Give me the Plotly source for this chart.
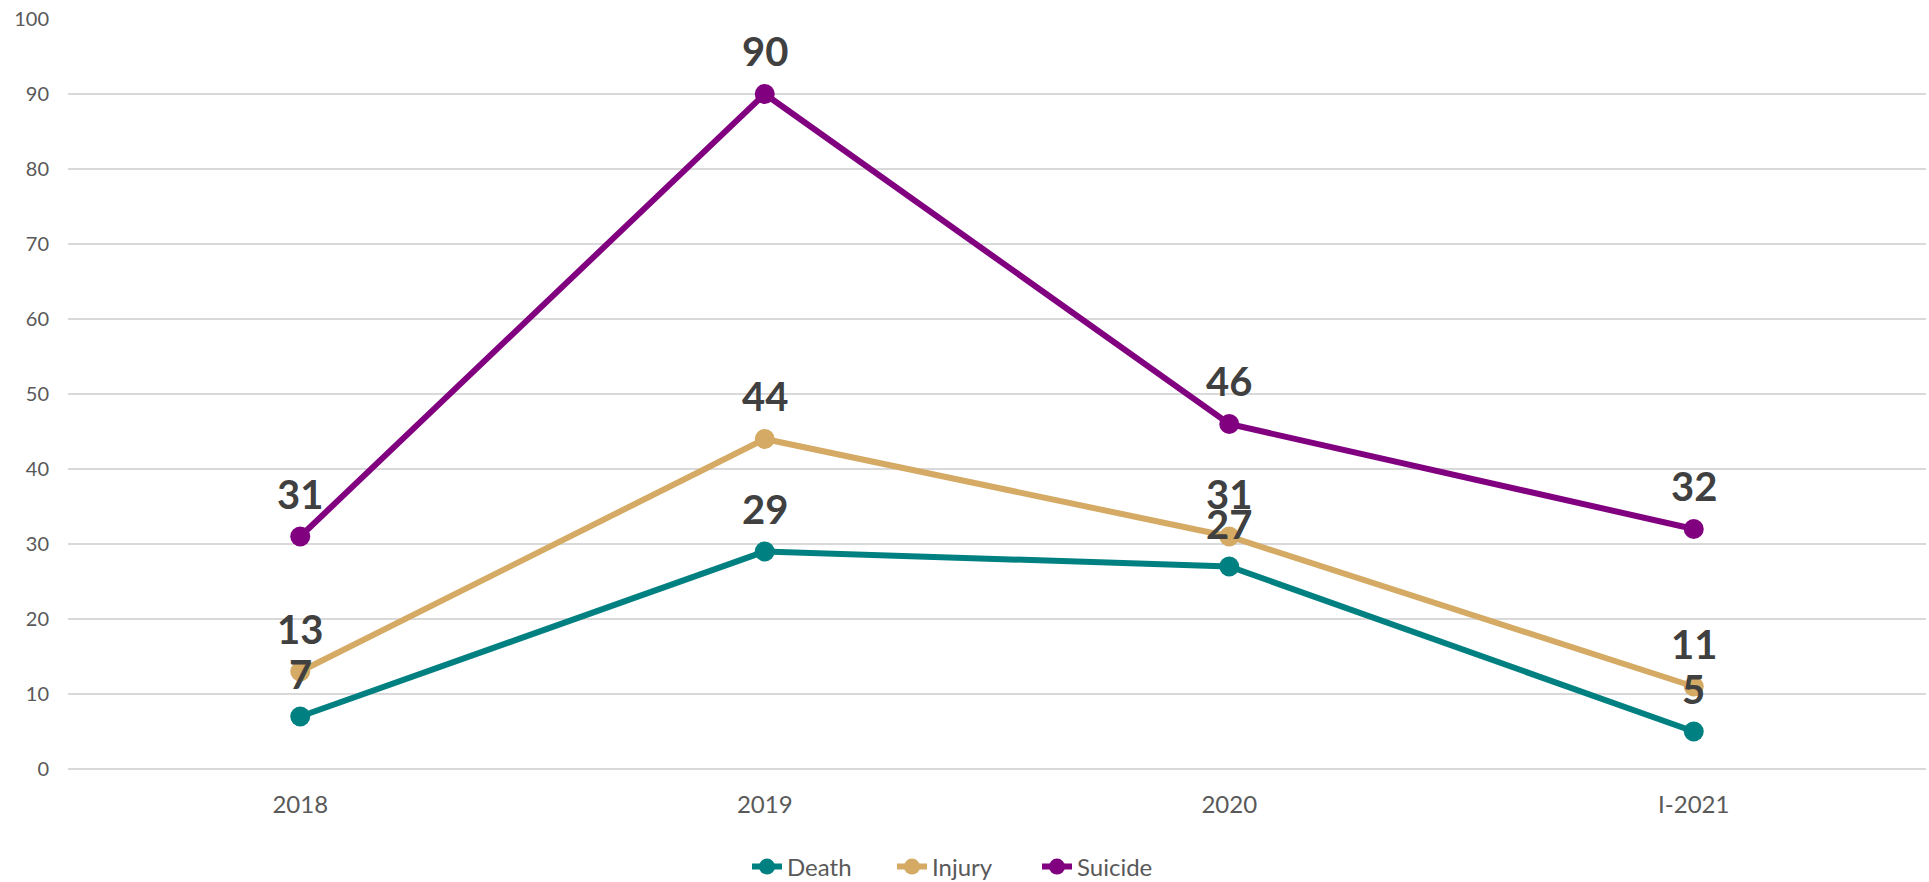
import plotly.graph_objects as go

categories = ["2018", "2019", "2020", "I-2021"]
death = [7, 29, 27, 5]
injury = [13, 44, 31, 11]
suicide = [31, 90, 46, 32]
y_ticks = list(range(0, 101, 10))

series = [
    ("Death", death, "#008080"),
    ("Injury", injury, "#D4AA64"),
    ("Suicide", suicide, "#800080"),
]

fig = go.Figure()
for name, vals, color in series:
    fig.add_trace(go.Scatter(
        x=categories, y=vals, name=name, mode="lines+markers",
        line=dict(color=color, width=6),
        marker=dict(color=color, size=20),
        cliponaxis=False,
    ))
for name, vals, color in series:
    for i, v in enumerate(vals):
        fig.add_annotation(
            x=i, y=v, text=str(v), showarrow=False, yanchor="middle",
            yshift=43,
            font=dict(family="Lato", size=40, color="#404040", weight="bold"),
        )

fig.update_layout(
    width=1929, height=882,
    margin=dict(l=68, r=3, t=19, b=113),
    paper_bgcolor="white", plot_bgcolor="white",
    font=dict(family="Lato", color="#595959"),
    showlegend=True,
    legend=dict(orientation="h", xref="container", yref="container",
                x=0.5, xanchor="center", y=0.017, yanchor="middle",
                font=dict(size=24, color="#595959"),
                entrywidth=100, tracegroupgap=0),
)
fig.update_xaxes(
    type="category", range=[-0.5, 3.5], showgrid=False, zeroline=False,
    showline=False, ticks="outside", ticklen=14, tickcolor="rgba(0,0,0,0)",
    tickfont=dict(size=24, color="#595959"),
)
fig.update_yaxes(
    range=[0, 100], tickvals=y_ticks, showgrid=True, gridcolor="#D9D9D9",
    gridwidth=1.5, zeroline=True, zerolinecolor="#D9D9D9", zerolinewidth=1.5,
    showline=False, ticks="outside", ticklen=14, tickcolor="rgba(0,0,0,0)",
    tickfont=dict(size=20, color="#595959"),
)

fig.write_html("out.html", config={"displayModeBar": False},
               post_script="document.body.style.margin='0';document.body.style.overflow='hidden';")
